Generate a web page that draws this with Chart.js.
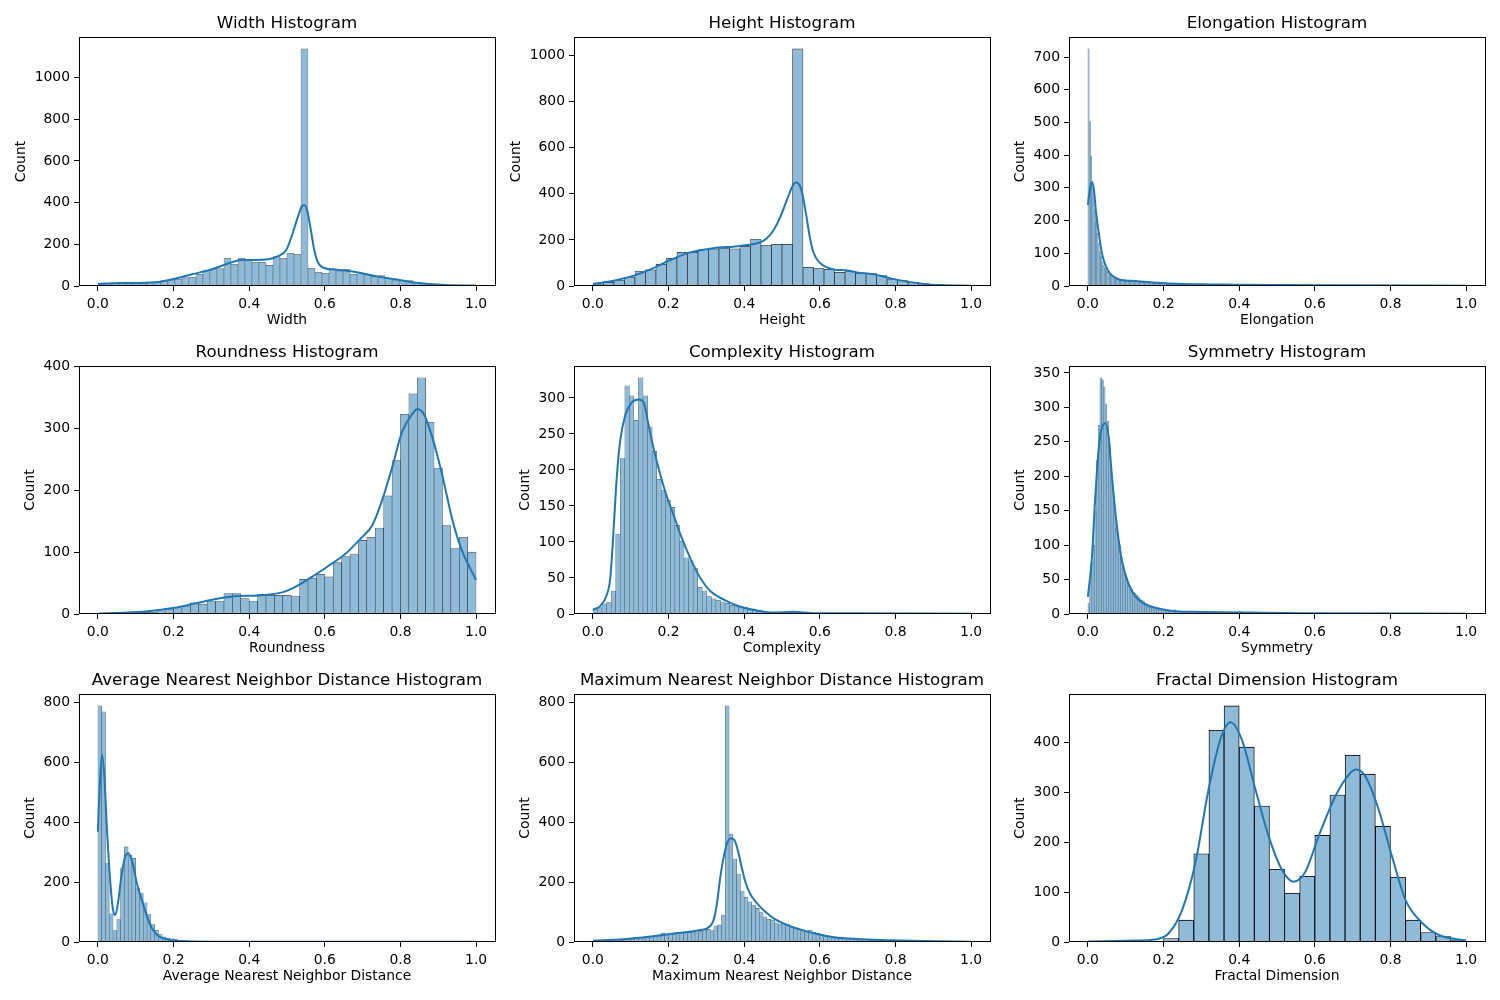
<!DOCTYPE html>
<html>
<head>
<meta charset="utf-8">
<script src="https://cdn.jsdelivr.net/npm/chart.js@4"></script>
<style>
  body { margin: 0; background: #fff; }
  #fig { position: relative; width: 1500px; height: 1000px; background: #fff; }
  canvas { position: absolute; }
</style>
</head>
<body>
<div id="fig"></div>
<script>
// bin counts (bins span 0..1 evenly)
const widthCounts = [10,13,13,13,11,13,13,16,18,26, 29,32,40,42,56,69,80,83,133,104,
  133,128,114,114,99,141,133,157,152,1138, 85,66,61,82,72,80,56,59,56,46,
  50,37,29,26,26,18,13,10,8,6, 5,3,3,2];
const heightCounts = [9,16,25,38,64,70,94,120,146,146, 158,161,164,161,172,203,177,181,181,1029,
  81,77,72,59,65,55,54,45,30,23, 16,10,7,4,3,1];
const elongationCounts = [725,503,396,319,283,232,197,161,130,105, 90,74,64,54,47,42,37,33,29,27,
  24,23,22,20,19,19,18,18,17,17, 17,17,16,16,16,15,15,15,14,14, 13,13,12,12,12,11,11,11,10,10,
  10,10,9,9,9,8,8,8,8,7, 7,7,7,6,6,6,6,6,6,5, 5,5,5,5,5,5,5,5,5,5, 5,5,5,5,5,4,4,4,4,4,
  4,4,4,4,4,4,4,4,4,4, 4,4,4,4,4,3,3,3,3,3, 3,3,3,3,3,3,3,3,3,3, 3,3,3,3,3,3,3,3,3,3,
  3,3,3,2,2,2,2,2,2,2, 2,2,2,2,2,2,2,2,2,2];
const roundnessCounts = [1,1,1,1,2,3,3,5,8,10, 12,18,16,21,21,33,33,25,21,32,
  30,30,30,29,56,58,64,60,83,93, 97,119,124,139,191,248,323,356,382,310, 236,143,106,124,100];
const complexityCounts = [6,9,14,16,32,111,216,317,303,269, 328,303,260,226,187,172,158,148,123,101,
  78,74,63,37,32,25,21,19,17,15, 12,11,10,9,7,5,5,3,2,2, 1,1,2,3,3,2,1,1,1,1, 0,1,0,0,1];
const symmetryCounts = [16,47,75,100,150,223,274,343,340,330, 305,280,245,210,180,150,125,118,100,82,
  70,58,52,45,40,36,32,30,27,25, 22,20,18,16,14,13,12,11,9,8, 8,7,6,6,5,5,4,4,3,3,
  6,3,3,2,2,3,2,2,2,2, 2,2,1,2,2,2,4,2,1,1, 1,2,1,1,1,1,1,2,1,1, 1,1,1,1,1,1,1,1,4,1,
  1,1,1,0,1,1,0,1,0,1];
const avgNndCounts = [790,770,262,94,38,75,248,318,290,280, 181,164,131,92,58,39,25,17,13,11,
  9,6,5,4,3,3,2,2,2,2, 1,1,1,1,1,1,1,1,1,1, 1,1,0,1,0,1,0,0,1,0,
  0,0,1,0,0,0,0,1,0,0, 0,0,0,0,0,1,0,0,0,0, 0,0,0,0,0,0,0,1,0,0,
  0,0,0,0,0,0,0,0,0,0, 0,0,0,0,0,0,0,0,0,1];
const maxNndCounts = [1,1,2,3,3,4,5,6,7,8, 10,12,14,16,18,20,22,24,31,26,
  27,28,30,31,32,32,33,34,36,38, 42,38,54,57,90,788,360,277,227,168,
  149,134,123,112,98,84,76,73,64,60, 57,60,49,46,43,38,33,40,33,29,
  23,20,18,17,16,14,13,12,11,10, 9,8,7,6,5,5,4,4,3,3,
  3,2,2,2,2,2,1,1,1,1, 1,1,1,1,1,1,0,0,1,1];
const fractalCounts = [0,0,0,0,1,7,44,177,425,474, 391,273,146,98,132,214,295,375,337,232, 130,44,19,11,3];

// number of bins of each histogram
const widthBins = 54, heightBins = 36, elongationBins = 300, roundnessBins = 45, complexityBins = 83;
const symmetryBins = 220, avgNndBins = 100, maxNndBins = 100, fractalBins = 25;

// kde curves, [x, count]
const widthKde = [[0,10],[0.055,14],[0.125,16],[0.169,22],[0.202,34],[0.249,56],[0.302,80],[0.346,109],
  [0.381,125],[0.416,125],[0.451,128],[0.478,144],[0.498,173],[0.515,253],[0.529,333],[0.539,381],[0.546,389],
  [0.554,357],[0.563,269],[0.572,173],[0.583,109],[0.601,85],[0.619,80],[0.654,74],[0.698,61],[0.742,45],
  [0.787,32],[0.831,18],[0.875,10],[0.919,5],[1,2]];
const heightKde = [[0,9],[0.055,23],[0.108,45],[0.152,72],[0.205,113],[0.257,146],[0.319,164],[0.39,174],
  [0.443,190],[0.46,207],[0.478,243],[0.496,301],[0.513,374],[0.531,443],[0.538,449],[0.548,432],[0.557,374],
  [0.566,287],[0.575,200],[0.584,142],[0.601,99],[0.619,81],[0.637,72],[0.672,67],[0.698,59],[0.742,51],
  [0.787,33],[0.831,19],[0.875,9],[0.919,4],[1,1]];
const elongationKde = [[0,248],[0.005,294],[0.0106,317],[0.016,294],[0.021,232],[0.03,151],[0.039,90],
  [0.052,49],[0.065,31],[0.083,20],[0.127,15],[0.171,11],[0.215,8],[0.303,5],[0.392,4],[0.48,3],[0.656,2],[1,1]];
const roundnessKde = [[0,0.5],[0.125,4],[0.202,10],[0.257,17],[0.319,25],[0.372,29],[0.425,30],[0.487,35],
  [0.513,41],[0.566,60],[0.61,78],[0.654,97],[0.698,124],[0.725,143],[0.751,183],[0.778,237],[0.804,294],
  [0.831,323],[0.844,331],[0.862,323],[0.884,286],[0.91,226],[0.937,153],[0.963,102],[1,55]];
const complexityKde = [[0,6],[0.019,11],[0.037,27],[0.046,50],[0.055,120],[0.063,189],[0.072,240],[0.086,277],
  [0.103,294],[0.121,298],[0.134,294],[0.147,263],[0.16,231],[0.178,194],[0.196,162],[0.213,138],[0.231,111],
  [0.257,78],[0.284,50],[0.31,32],[0.346,20],[0.39,10],[0.434,5],[0.478,2],[0.531,3],[0.584,1],[0.654,1],[1,0.5]];
const symmetryKde = [[0,25],[0.0106,82],[0.019,165],[0.028,237],[0.037,271],[0.046,277],[0.055,257],[0.063,203],
  [0.077,126],[0.09,77],[0.108,43],[0.125,26],[0.152,14],[0.187,8],[0.231,4],[0.3,3],[0.425,2],[0.566,1],[1,0.5]];
const avgNndKde = [[0,369],[0.0044,509],[0.0106,626],[0.017,554],[0.024,375],[0.033,196],[0.04,107],[0.046,90],
  [0.053,129],[0.062,219],[0.072,286],[0.081,297],[0.092,263],[0.103,196],[0.116,141],[0.13,85],[0.143,46],
  [0.16,20],[0.183,9],[0.213,3],[0.3,1],[0.478,1],[1,1]];
const maxNndKde = [[0,4],[0.081,9],[0.152,18],[0.205,27],[0.249,33],[0.284,40],[0.302,46],[0.319,73],[0.328,129],
  [0.337,218],[0.346,284],[0.354,327],[0.365,346],[0.374,340],[0.383,307],[0.392,257],[0.403,201],[0.416,160],
  [0.434,129],[0.456,101],[0.478,79],[0.513,57],[0.548,42],[0.584,29],[0.637,16],[0.698,10],[0.787,6],[0.875,3],[1,1]];
const fractalKde = [[0,1],[0.125,3],[0.178,5],[0.213,17],[0.249,64],[0.284,158],[0.319,306],[0.35,406],[0.377,441],
  [0.407,406],[0.443,306],[0.478,212],[0.513,145],[0.544,121],[0.575,141],[0.61,212],[0.654,292],[0.69,336],
  [0.709,346],[0.734,332],[0.769,265],[0.804,172],[0.84,84],[0.884,38],[0.928,14],[1,3]];

const xTicks = [0, 0.2, 0.4, 0.6, 0.8, 1.0];
const widthYTicks = [0,200,400,600,800,1000];
const heightYTicks = [0,200,400,600,800,1000];
const elongationYTicks = [0,100,200,300,400,500,600,700];
const roundnessYTicks = [0,100,200,300,400];
const complexityYTicks = [0,50,100,150,200,250,300];
const symmetryYTicks = [0,50,100,150,200,250,300,350];
const avgNndYTicks = [0,200,400,600,800];
const maxNndYTicks = [0,200,400,600,800];
const fractalYTicks = [0,100,200,300,400];

const panels = [
  { title: 'Width Histogram', xlabel: 'Width', counts: widthCounts, bins: widthBins, kde: widthKde, yTicks: widthYTicks, edge: 'rgba(0,0,0,0.6)', edgeW: 0.6 },
  { title: 'Height Histogram', xlabel: 'Height', counts: heightCounts, bins: heightBins, kde: heightKde, yTicks: heightYTicks, edge: 'rgba(0,0,0,0.8)', edgeW: 0.7 },
  { title: 'Elongation Histogram', xlabel: 'Elongation', counts: elongationCounts, bins: elongationBins, kde: elongationKde, yTicks: elongationYTicks, edge: 'rgb(80,108,132)', edgeW: 0.45 },
  { title: 'Roundness Histogram', xlabel: 'Roundness', counts: roundnessCounts, bins: roundnessBins, kde: roundnessKde, yTicks: roundnessYTicks, edge: 'rgba(0,0,0,0.7)', edgeW: 0.6 },
  { title: 'Complexity Histogram', xlabel: 'Complexity', counts: complexityCounts, bins: complexityBins, kde: complexityKde, yTicks: complexityYTicks, edge: 'rgb(80,95,110)', edgeW: 0.55 },
  { title: 'Symmetry Histogram', xlabel: 'Symmetry', counts: symmetryCounts, bins: symmetryBins, kde: symmetryKde, yTicks: symmetryYTicks, edge: 'rgb(80,108,132)', edgeW: 0.45 },
  { title: 'Average Nearest Neighbor Distance Histogram', xlabel: 'Average Nearest Neighbor Distance', counts: avgNndCounts, bins: avgNndBins, kde: avgNndKde, yTicks: avgNndYTicks, edge: 'rgb(80,95,110)', edgeW: 0.55 },
  { title: 'Maximum Nearest Neighbor Distance Histogram', xlabel: 'Maximum Nearest Neighbor Distance', counts: maxNndCounts, bins: maxNndBins, kde: maxNndKde, yTicks: maxNndYTicks, edge: 'rgb(80,95,110)', edgeW: 0.55 },
  { title: 'Fractal Dimension Histogram', xlabel: 'Fractal Dimension', counts: fractalCounts, bins: fractalBins, kde: fractalKde, yTicks: fractalYTicks, edge: '#000', edgeW: 0.9 }
];

// figure layout (matplotlib axes boxes)
const colLeft = [79, 574, 1069];
const rowTop = [37, 366, 694];
const rowHeight = [249, 248, 248];
const axW = 416;
const padL = 70, padT = 37, padR = 10, padB = 45;

Chart.defaults.font.family = '"DejaVu Sans", sans-serif';
Chart.defaults.color = '#000';

// matplotlib-like frame around the axes
const frame = {
  id: 'frame',
  afterDraw(chart) {
    const a = chart.chartArea;
    const ctx = chart.ctx;
    ctx.save();
    ctx.strokeStyle = '#000';
    ctx.lineWidth = 1;
    ctx.strokeRect(Math.round(a.left) + 0.5, Math.round(a.top) + 0.5,
      Math.round(a.right - a.left), Math.round(a.bottom - a.top) - 1);
    ctx.restore();
  }
};

const fig = document.getElementById('fig');

panels.forEach((p, i) => {
  const col = i % 3, row = Math.floor(i / 3);
  const canvas = document.createElement('canvas');
  const w = padL + axW + padR;
  const h = padT + rowHeight[row] + padB;
  canvas.width = w;
  canvas.height = h;
  canvas.style.left = (colLeft[col] - padL) + 'px';
  canvas.style.top = (rowTop[row] - padT) + 'px';
  canvas.style.width = w + 'px';
  canvas.style.height = h + 'px';
  fig.appendChild(canvas);

  const wide = Math.max(...p.yTicks) >= 1000;
  const yMax = Math.max(...p.counts) * 1.05;
  const bars = [];
  p.counts.forEach((c, k) => { if (c > 0) bars.push({ x: (k + 0.5) / p.bins, y: c }); });

  const tickGrid = { offset: false, drawOnChartArea: false, drawTicks: true, tickLength: 5, tickColor: '#000', tickWidth: 1 };

  new Chart(canvas, {
    type: 'bar',
    data: {
      datasets: [
        {
          type: 'line',
          xAxisID: 'x',
          yAxisID: 'y',
          data: p.kde.map(([x, y]) => ({ x, y })),
          borderColor: '#1f77b4',
          borderWidth: 2,
          pointRadius: 0,
          fill: false,
          cubicInterpolationMode: 'monotone',
          order: 0
        },
        {
          type: 'bar',
          xAxisID: 'x',
          yAxisID: 'y',
          data: bars,
          backgroundColor: '#8fbbd9',
          borderColor: p.edge,
          borderWidth: p.edgeW,
          barPercentage: 1,
          categoryPercentage: 1,
          grouped: false,
          order: 1
        }
      ]
    },
    options: {
      responsive: false,
      animation: false,
      devicePixelRatio: 1,
      layout: { padding: { left: 0, top: 0, right: padR, bottom: 0 } },
      plugins: {
        legend: { display: false },
        tooltip: { enabled: false },
        title: { display: false }
      },
      scales: {
        x: {
          type: 'linear',
          position: 'bottom',
          min: -0.05,
          max: 1.05,
          offset: false,
          afterBuildTicks: s => { s.ticks = xTicks.map(v => ({ value: v })); },
          afterFit: s => { s.height = padB; },
          grid: tickGrid,
          border: { display: false },
          ticks: { autoSkip: false, maxRotation: 0, padding: 5.5, font: { size: 13.9 }, callback: v => v.toFixed(1) },
          title: { display: true, text: p.xlabel, font: { size: 13.9 }, padding: { top: 0, bottom: 2 } }
        },
        y: {
          type: 'linear',
          position: 'left',
          min: 0,
          max: yMax,
          afterBuildTicks: s => { s.ticks = p.yTicks.map(v => ({ value: v })); },
          afterFit: s => { s.width = padL; },
          grid: tickGrid,
          border: { display: false },
          ticks: { padding: 4, font: { size: 13.9 }, callback: v => String(v) },
          title: { display: true, text: 'Count', font: { size: 13.9 }, padding: { top: wide ? 3.7 : 12.7, bottom: 0 } }
        },
        // top axis only carries the plot title, centred over the axes
        top: {
          type: 'linear',
          position: 'top',
          min: -0.05,
          max: 1.05,
          offset: false,
          afterFit: s => { s.height = padT; },
          grid: { display: false },
          border: { display: false },
          ticks: { display: false },
          title: { display: true, text: p.title, font: { size: 16.7 }, padding: { top: 14, bottom: 0 } }
        }
      }
    },
    plugins: [frame]
  });
});
</script>
</body>
</html>
